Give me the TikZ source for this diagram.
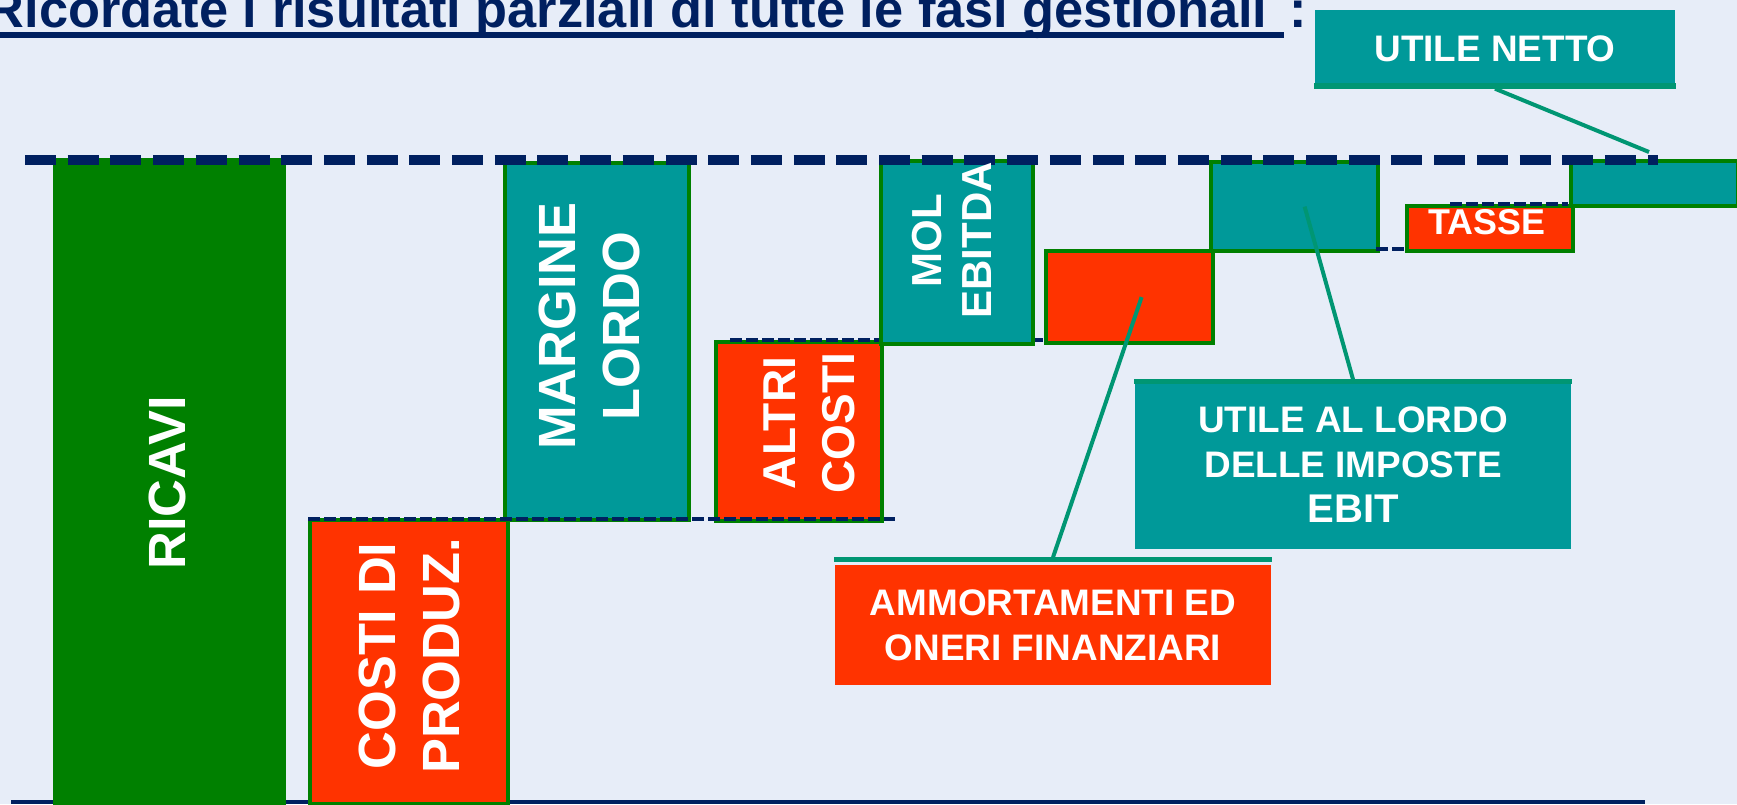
\documentclass[tikz,border=0pt]{standalone}
\usepackage{fontspec}
\setmainfont{Liberation Sans}
\usepackage{tikz}
\usetikzlibrary{calc}
\definecolor{sfondo}{HTML}{E7EDF8}
\definecolor{blu}{HTML}{002060}
\definecolor{verde}{HTML}{008000}
\definecolor{petrolio}{HTML}{009999}
\definecolor{rosso}{HTML}{FF3300}
\definecolor{guida}{HTML}{009673}
\tikzset{barra/.style={draw=verde,line width=1.2pt,inner sep=0pt,anchor=north west}}
\tikzset{utile/.style={barra,fill=petrolio}}
\tikzset{costo/.style={barra,fill=rosso}}
\tikzset{vt/.style={white,font=\bfseries\fontsize{14.9}{18.2}\selectfont,rotate=90,align=center,inner sep=0pt}}
\tikzset{call/.style={fill=petrolio,text=white,align=center,inner sep=0pt,font=\bfseries\fontsize{10.5}{12.9}\selectfont}}
\tikzset{lead/.style={guida,line width=0.04cm}}
\tikzset{liv/.style={blu,line width=0.035cm,dash pattern=on 0.117cm off 0.043cm}}

\begin{document}
\begin{tikzpicture}
  \useasboundingbox (0,0) rectangle (17.37,8.04);
  \clip (0,0) rectangle (17.37,8.04);
  \fill[sfondo] (0,0) rectangle (17.37,8.04);
  \draw[blu,line width=0.04cm] (0.11,0.02) -- (16.45,0.02);
  % barre
  \node[barra,fill=verde,minimum width=2.29cm,minimum height=6.6cm] (RIC) at (0.53,6.46) {};
  \node[costo,minimum width=1.98cm,minimum height=2.84cm] (CDP) at (3.08,2.86) {};
  \node[utile,minimum width=1.84cm,minimum height=3.57cm] (ML) at (5.03,6.43) {};
  \node[costo,minimum width=1.66cm,minimum height=1.79cm] (AC) at (7.14,4.64) {};
  \draw[liv] (3.08,2.85) -- (8.95,2.85);
  \draw[liv] (7.30,4.64) -- (10.43,4.64);
  \node[utile,minimum width=1.52cm,minimum height=1.83cm] (MOL) at (8.79,6.45) {};
  \node[costo,minimum width=1.67cm,minimum height=0.92cm] (AOFb) at (10.44,5.55) {};
  \node[utile,minimum width=1.67cm,minimum height=0.89cm] (EBT) at (12.09,6.44) {};
  \draw[liv] (13.76,5.55) -- (14.05,5.55);
  \node[costo,minimum width=1.66cm,minimum height=0.45cm] (TAS) at (14.05,6.00) {};
  \draw[liv] (14.50,6.00) -- (15.68,6.00);
  \node[utile,minimum width=1.67cm,minimum height=0.45cm] (UNb) at (15.69,6.45) {};
  \draw[blu,line width=0.093cm,dash pattern=on 0.31cm off 0.117cm] (0.25,6.44) -- (16.58,6.44);
  % testi
  \node[vt] (RICt) at (1.676,3.213) {RICAVI};
  \node[vt] (CDPt) at (4.09,1.48) {COSTI DI\\PRODUZ.};
  \node[vt] (MLt) at (5.895,4.78) {MARGINE\\LORDO};
  \node[vt,font=\bfseries\fontsize{13.1}{16.8}\selectfont] (ACt) at (8.09,3.81) {ALTRI\\COSTI};
  \node[vt,font=\bfseries\fontsize{11.95}{14.2}\selectfont] (MOLt) at (9.514,5.635) {MOL\\EBITDA};
  \node[white,inner sep=0pt,font=\bfseries\fontsize{10.2}{12}\selectfont] (TASt) at (14.87,5.815) {TASSE};
  % richiami
  \node[call,minimum width=3.60cm,minimum height=0.78cm] (UN) at (14.95,7.55) {UTILE NETTO};
  \node[call,minimum width=4.36cm,minimum height=1.69cm] (UAL) at (13.53,3.395)
    {UTILE AL LORDO\\DELLE IMPOSTE\\{\fontsize{11.4}{13.7}\selectfont EBIT}};
  \node[call,fill=rosso,minimum width=4.36cm,minimum height=1.20cm] (AOF) at (10.53,1.79)
    {AMMORTAMENTI ED\\ONERI FINANZIARI};
  \draw[guida,line width=0.055cm] ([yshift=0.0275cm]UN.south west) -- ([yshift=0.0275cm]UN.south east);
  \draw[guida,line width=0.05cm] ([yshift=-0.025cm]UAL.north west) -- ([yshift=-0.025cm]UAL.north east);
  \draw[guida,line width=0.05cm] ([yshift=0.045cm]AOF.north west) -- ([yshift=0.045cm]AOF.north east);
  \coordinate (UNp) at (16.49,6.52);
  \draw[lead] (UN.south) -- (UNp);
  \draw[lead] (UAL.north) -- ([xshift=0.1cm]EBT.center);
  \draw[lead] ([yshift=0.07cm]AOF.north) -- ([xshift=0.12cm]AOFb.center);
  % titolo
  \node[anchor=base east,text=blu,inner sep=0pt,font=\bfseries\fontsize{14.9}{18}\selectfont] (TIT) at (12.68,7.77)
    {Ricordate i risultati parziali di tutte le fasi gestionali};
  \node[anchor=base west,text=blu,inner sep=0pt,font=\bfseries\fontsize{14.9}{18}\selectfont] (DP) at (12.885,7.77) {:};
  \draw[blu,line width=0.055cm] ([yshift=-0.08cm]TIT.base west) -- ([xshift=0.16cm,yshift=-0.08cm]TIT.base east);
\end{tikzpicture}
\end{document}
